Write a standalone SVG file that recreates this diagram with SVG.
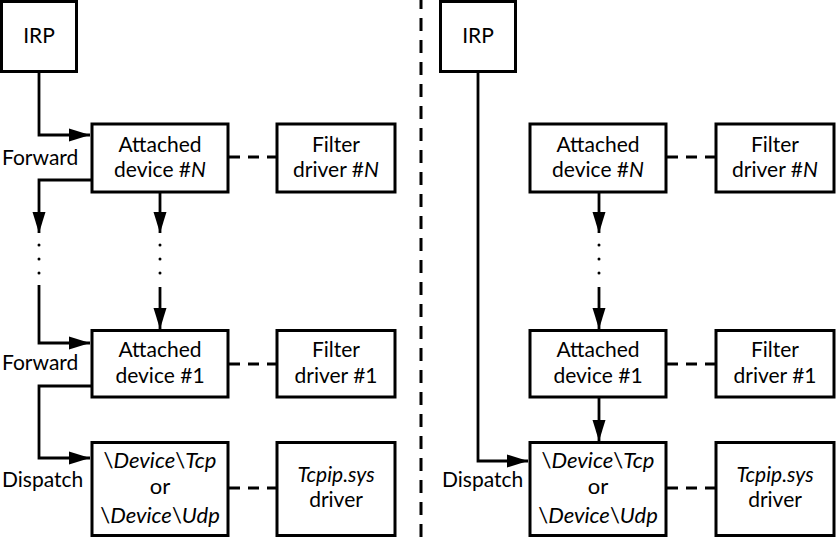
<svg xmlns="http://www.w3.org/2000/svg" width="837" height="538" viewBox="0 0 837 538">
<defs>
<marker id="ah" markerUnits="userSpaceOnUse" markerWidth="22" markerHeight="14" refX="21" refY="7" orient="auto">
<path d="M0,0.5 L21,7 L0,13.5 Z" fill="#000"/>
</marker>
<style>
.box{fill:#fff;stroke:#000;stroke-width:3}
.arr{fill:none;stroke:#000;stroke-width:2.8;marker-end:url(#ah)}
.dash{fill:none;stroke:#000;stroke-width:2.8;stroke-dasharray:11 8}
.div{fill:none;stroke:#000;stroke-width:3;stroke-dasharray:13 9;stroke-dashoffset:4}
text{font-family:Lato,"Noto Sans","DejaVu Sans",sans-serif;font-size:21px;fill:#000}
.c{text-anchor:middle}
.i{font-style:italic}
.dv{font-size:22px}
</style>
</defs>
<rect width="837" height="538" fill="#fff"/>
<line class="div" x1="421" y1="0" x2="421" y2="538"/>

<g id="connectors">
<path class="arr" d="M39,72 V135 H90"/>
<path class="arr" d="M91,180 H39 V233"/>
<path class="arr" d="M160,193 V233"/>
<path class="arr" d="M39,285 V343 H90"/>
<path class="arr" d="M160,287 V329"/>
<path class="arr" d="M91,386 H39 V458 H90"/>
<path class="dash" d="M229,157 H276"/>
<path class="dash" d="M229,364 H276"/>
<path class="dash" d="M229,488 H276"/>
<path class="arr" d="M478,72 V461 H528"/>
<path class="arr" d="M599,193 V233"/>
<path class="arr" d="M599,287 V329"/>
<path class="arr" d="M599,398 V441"/>
<path class="dash" d="M667,157 H715"/>
<path class="dash" d="M667,364 H715"/>
<path class="dash" d="M667,488 H715"/>
<g fill="#000">
<circle cx="39" cy="245" r="1.5"/><circle cx="39" cy="259" r="1.5"/><circle cx="39" cy="273" r="1.5"/>
<circle cx="160" cy="245" r="1.5"/><circle cx="160" cy="259" r="1.5"/><circle cx="160" cy="273" r="1.5"/>
<circle cx="599" cy="245" r="1.5"/><circle cx="599" cy="259" r="1.5"/><circle cx="599" cy="273" r="1.5"/>
</g>
<text x="2" y="165">Forward</text>
<text x="2" y="370">Forward</text>
<text x="2" y="487">Dispatch</text>
<text x="442" y="487">Dispatch</text>
</g>

<g id="irp-left">
<rect class="box" x="1.5" y="1.5" width="75" height="70"/>
<text class="c" x="39" y="43">IRP</text>
</g>
<g id="attached-n-left">
<rect class="box" x="92" y="124" width="136" height="68"/>
<text class="c" x="160" y="152">Attached</text>
<text class="c" x="160" y="177">device #<tspan class="i">N</tspan></text>
</g>
<g id="filter-n-left">
<rect class="box" x="277" y="124" width="118" height="68"/>
<text class="c" x="336" y="152">Filter</text>
<text class="c" x="336" y="177">driver #<tspan class="i">N</tspan></text>
</g>
<g id="attached-1-left">
<rect class="box" x="92" y="330.5" width="136" height="66.5"/>
<text class="c" x="160" y="357">Attached</text>
<text class="c" x="160" y="383">device #1</text>
</g>
<g id="filter-1-left">
<rect class="box" x="277" y="330.5" width="118" height="66.5"/>
<text class="c" x="336" y="357">Filter</text>
<text class="c" x="336" y="383">driver #1</text>
</g>
<g id="device-left">
<rect class="box" x="92" y="442.5" width="136" height="93"/>
<text class="c dv" x="160" y="468">\<tspan class="i">Device</tspan>\<tspan class="i">Tcp</tspan></text>
<text class="c dv" x="160" y="494">or</text>
<text class="c dv" x="160" y="523">\<tspan class="i">Device</tspan>\<tspan class="i">Udp</tspan></text>
</g>
<g id="tcpip-left">
<rect class="box" x="277" y="442.5" width="118" height="93"/>
<text class="c" x="336" y="482"><tspan class="i">Tcpip.sys</tspan></text>
<text class="c" x="336" y="507">driver</text>
</g>

<g id="irp-right">
<rect class="box" x="440.5" y="1.5" width="75" height="70"/>
<text class="c" x="478" y="43">IRP</text>
</g>
<g id="attached-n-right">
<rect class="box" x="530" y="124" width="136" height="68"/>
<text class="c" x="598" y="152">Attached</text>
<text class="c" x="598" y="177">device #<tspan class="i">N</tspan></text>
</g>
<g id="filter-n-right">
<rect class="box" x="716" y="124" width="118" height="68"/>
<text class="c" x="775" y="152">Filter</text>
<text class="c" x="775" y="177">driver #<tspan class="i">N</tspan></text>
</g>
<g id="attached-1-right">
<rect class="box" x="530" y="330.5" width="136" height="66.5"/>
<text class="c" x="598" y="357">Attached</text>
<text class="c" x="598" y="383">device #1</text>
</g>
<g id="filter-1-right">
<rect class="box" x="716" y="330.5" width="118" height="66.5"/>
<text class="c" x="775" y="357">Filter</text>
<text class="c" x="775" y="383">driver #1</text>
</g>
<g id="device-right">
<rect class="box" x="530" y="442.5" width="136" height="93"/>
<text class="c dv" x="598" y="468">\<tspan class="i">Device</tspan>\<tspan class="i">Tcp</tspan></text>
<text class="c dv" x="598" y="494">or</text>
<text class="c dv" x="598" y="523">\<tspan class="i">Device</tspan>\<tspan class="i">Udp</tspan></text>
</g>
<g id="tcpip-right">
<rect class="box" x="716" y="442.5" width="118" height="93"/>
<text class="c" x="775" y="482"><tspan class="i">Tcpip.sys</tspan></text>
<text class="c" x="775" y="507">driver</text>
</g>
</svg>
